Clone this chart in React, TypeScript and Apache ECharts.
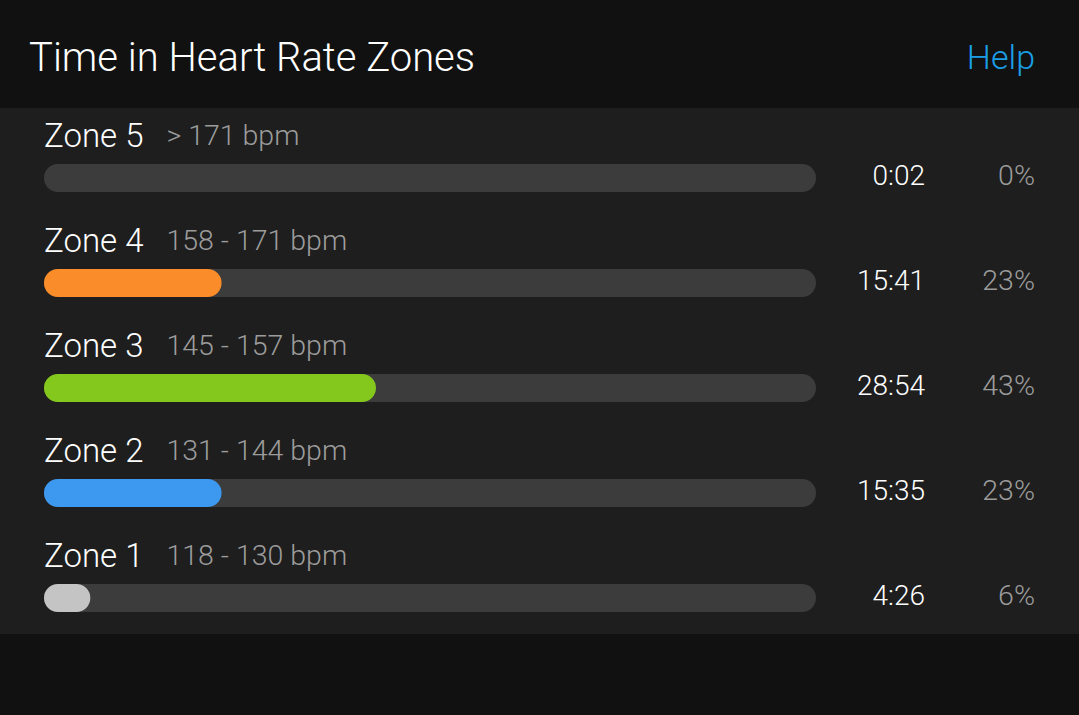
import React, { useEffect, useRef } from "react";
import * as echarts from "echarts";

const zones = ["Zone 5", "Zone 4", "Zone 3", "Zone 2", "Zone 1"];
const ranges = ["> 171 bpm", "158 - 171 bpm", "145 - 157 bpm", "131 - 144 bpm", "118 - 130 bpm"];
const times = ["0:02", "15:41", "28:54", "15:35", "4:26"];
const percents = [0, 23, 43, 23, 6];
const colors = ["#fb8c2a", "#fb8c2a", "#84c81e", "#3d98f0", "#c4c4c4"];

const FONT = "Roboto";

export default function App() {
  const ref = useRef<HTMLDivElement>(null);
  useEffect(() => {
    document.body.style.margin = "0";
    const chart = echarts.init(ref.current!, null, { renderer: "svg" });
    const full = zones.map(() => 100);
    chart.setOption({
      animation: false,
      backgroundColor: "#111111",
      textStyle: { fontFamily: FONT },
      graphic: [
        { type: "rect", shape: { x: 0, y: 108, width: 1079, height: 526 }, style: { fill: "#1e1e1e" }, z: -10 },
        {
          type: "text", x: 29, y: 57,
          style: { text: "Time in Heart Rate Zones", fill: "#ffffff", font: `300 40px ${FONT}`, verticalAlign: "middle" },
        },
        {
          type: "text", x: 1035, y: 57,
          style: { text: "Help", fill: "#1a9ee6", font: `300 34px ${FONT}`, align: "right", verticalAlign: "middle" },
        },
      ],
      grid: { left: 44, right: 263, top: 125.5, bottom: 64.5, containLabel: false },
      xAxis: { type: "value", min: 0, max: 100, show: false },
      yAxis: {
        type: "category", data: zones, inverse: true,
        axisLine: { show: false }, axisTick: { show: false }, axisLabel: { show: false }, splitLine: { show: false },
      },
      series: [
        {
          type: "bar",
          data: percents.map((v, i) => ({ value: v, itemStyle: { color: colors[i] } })),
          barWidth: 28,
          showBackground: true,
          backgroundStyle: { color: "#3c3c3c", borderRadius: 14 },
          itemStyle: { borderRadius: 14 },
          z: 2,
        },
        {
          type: "bar", data: full, barWidth: 28, barGap: "-100%", silent: true,
          itemStyle: { color: "rgba(0,0,0,0)" },
          label: {
            show: true, position: [0, -29], align: "left", verticalAlign: "middle",
            formatter: (p: any) => `{z|${zones[p.dataIndex]}}{r|${ranges[p.dataIndex]}}`,
            rich: {
              z: { color: "#ffffff", fontSize: 33, fontWeight: 300, fontFamily: FONT, padding: [0, 23, 0, 0] },
              r: { color: "#9c9c9c", fontSize: 28.5, fontWeight: 300, fontFamily: FONT },
            },
          },
          z: 3,
        },
        {
          type: "bar", data: full, barWidth: 28, barGap: "-100%", silent: true,
          itemStyle: { color: "rgba(0,0,0,0)" },
          label: {
            show: true, position: [881, 11], align: "right", verticalAlign: "middle",
            formatter: (p: any) => times[p.dataIndex],
            color: "#ffffff", fontSize: 28, fontWeight: 300, fontFamily: FONT,
          },
          z: 3,
        },
        {
          type: "bar", data: full, barWidth: 28, barGap: "-100%", silent: true,
          itemStyle: { color: "rgba(0,0,0,0)" },
          label: {
            show: true, position: [991, 11], align: "right", verticalAlign: "middle",
            formatter: (p: any) => `${percents[p.dataIndex]}%`,
            color: "#9c9c9c", fontSize: 28.5, fontWeight: 300, fontFamily: FONT,
          },
          z: 3,
        },
      ],
    });
    return () => chart.dispose();
  }, []);
  return <div ref={ref} style={{ width: 1079, height: 715 }} />;
}
